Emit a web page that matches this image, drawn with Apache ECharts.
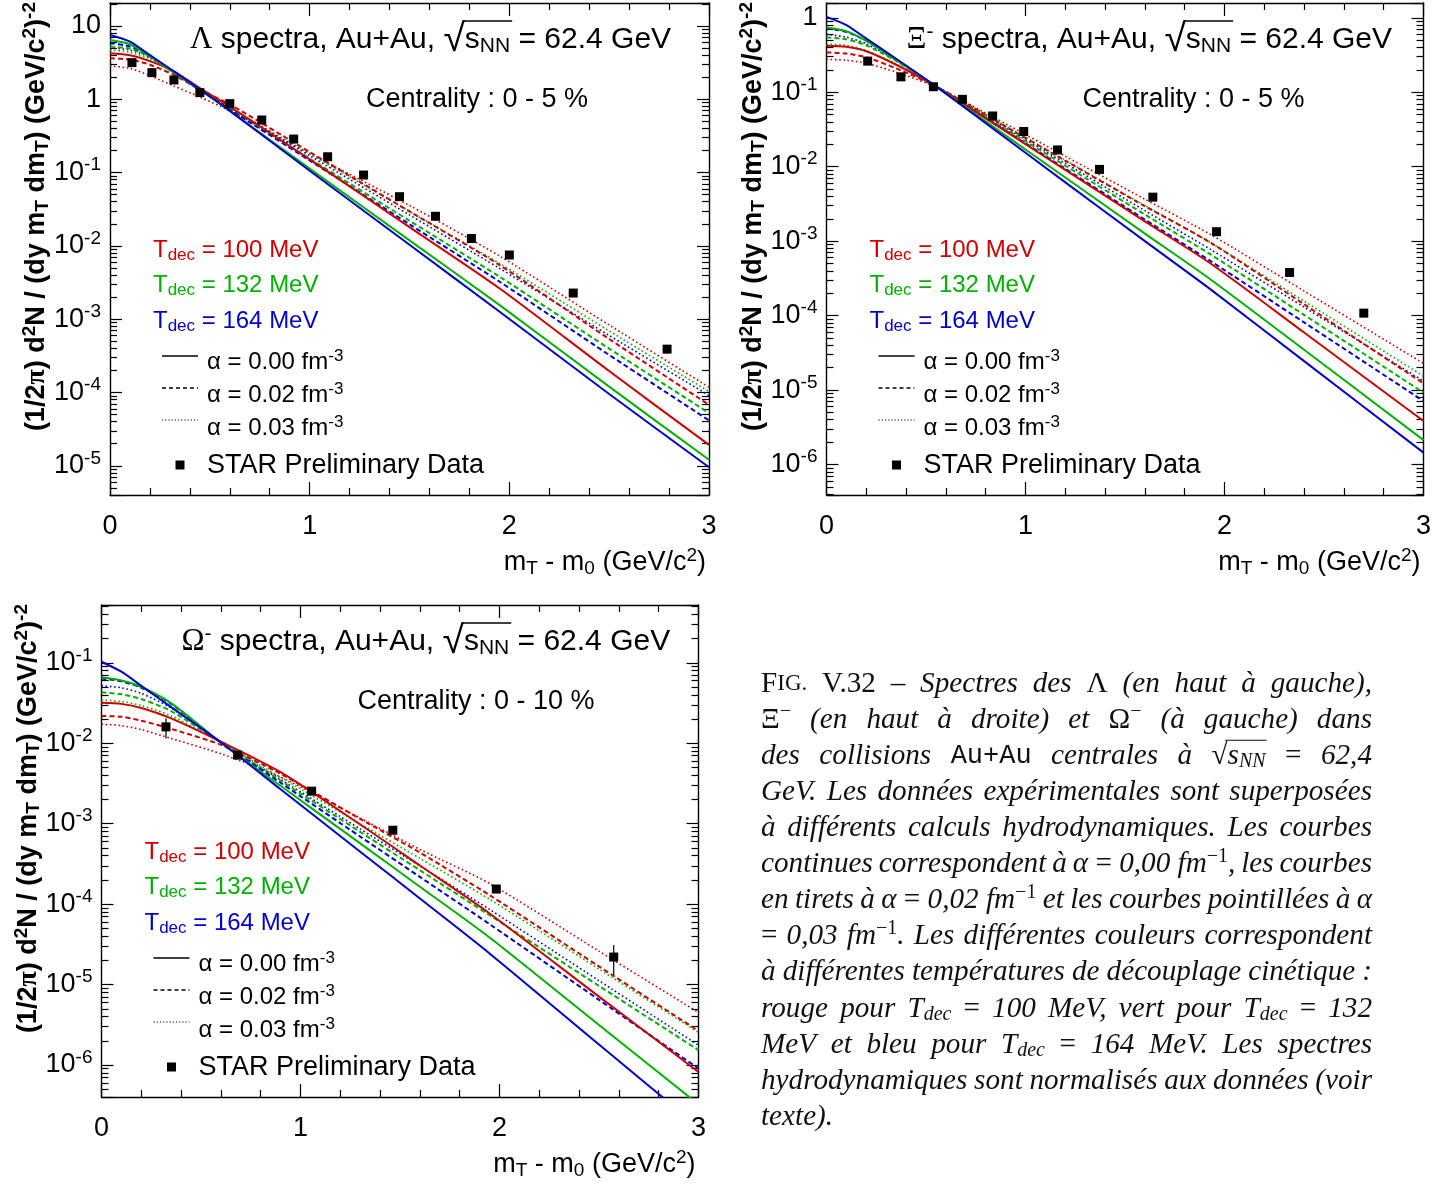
<!DOCTYPE html>
<html>
<head>
<meta charset="utf-8">
<title>Spectres Λ, Ξ, Ω – Au+Au 62.4 GeV</title>
<script src="https://cdn.jsdelivr.net/npm/echarts@6.0.0/dist/echarts.min.js"></script>
<style>
html, body { margin:0; padding:0; background:#fff; }
#chart { width:1455px; height:1185px; }
</style>
</head>
<body>
<div id="chart"></div>
<script>
// ================= DATA =================
// ---- Lambda, 0-5 % ----
const lamX  = [0, 0.1, 0.2, 0.32, 0.45, 0.6, 1.0, 1.5, 1.95, 2.5, 3.0];
const lamR0 = [4.23, 3.98, 3.31, 2.40, 1.413, 0.794, 0.1514, 0.0180, 2.64e-3, 1.96e-4, 1.93e-5];
const lamR2 = [3.61, 3.47, 2.95, 2.14, 1.35, 0.851, 0.1905, 0.0295, 5.50e-3, 5.37e-4, 6.79e-5];
const lamR3 = [2.84, 2.63, 2.09, 1.514, 1.072, 0.692, 0.182, 0.0355, 7.29e-3, 8.32e-4, 1.183e-4];
const lamG0 = [6.43, 5.62, 3.80, 2.29, 1.35, 0.692, 0.1132, 0.01189, 1.567e-3, 1.202e-4, 1.208e-5];
const lamG2 = [5.20, 4.90, 3.80, 2.34, 1.318, 0.735, 0.1545, 0.0220, 3.81e-3, 3.96e-4, 5.25e-5];
const lamG3 = [4.68, 4.37, 3.55, 2.29, 1.318, 0.766, 0.1803, 0.0295, 5.79e-3, 6.92e-4, 1.03e-4];
const lamB0 = [7.52, 6.10, 3.98, 2.40, 1.365, 0.692, 0.1059, 0.01035, 1.271e-3, 9.55e-5, 9.55e-6];
const lamB2 = [5.79, 5.25, 3.89, 2.34, 1.334, 0.723, 0.1459, 0.0197, 3.26e-3, 3.25e-4, 4.17e-5];
const lamB3 = [5.01, 4.68, 3.72, 2.34, 1.318, 0.753, 0.170, 0.0264, 4.95e-3, 6.0e-4, 9.12e-5];
const lamDataX = [0.11, 0.21, 0.32, 0.45, 0.60, 0.76, 0.92, 1.09, 1.27, 1.45, 1.63, 1.81, 2.00, 2.32, 2.79];
const lamDataY = [3.15, 2.30, 1.83, 1.23, 0.87, 0.52, 0.286, 0.164, 0.0924, 0.0468, 0.0253, 0.0126, 0.0075, 0.00227, 0.00039];

// ---- Xi-, 0-5 % ----
const xiX  = [0, 0.1, 0.2, 0.35, 0.55, 0.8, 1.2, 1.6, 1.93, 2.4, 3.0];
const xiR0 = [0.421, 0.407, 0.355, 0.234, 0.120, 0.0445, 9.06e-3, 1.845e-3, 5.01e-4, 5.93e-5, 3.84e-6];
const xiR2 = [0.343, 0.331, 0.295, 0.209, 0.120, 0.0495, 0.0120, 2.95e-3, 9.55e-4, 1.42e-4, 1.23e-5];
const xiR3 = [0.277, 0.269, 0.245, 0.186, 0.1175, 0.0525, 0.01384, 3.66e-3, 1.23e-3, 2.14e-4, 2.28e-5];
const xiG0 = [0.743, 0.661, 0.490, 0.275, 0.120, 0.0406, 7.16e-3, 1.265e-3, 3.06e-4, 3.48e-5, 2.13e-6];
const xiG2 = [0.546, 0.513, 0.427, 0.263, 0.120, 0.0468, 0.01033, 2.28e-3, 6.64e-4, 1.023e-4, 9.23e-6];
const xiG3 = [0.440, 0.427, 0.363, 0.240, 0.120, 0.0501, 0.01227, 3.01e-3, 9.55e-4, 1.567e-4, 1.54e-5];
const xiB0 = [1.03, 0.798, 0.525, 0.282, 0.120, 0.0385, 6.17e-3, 1.0e-3, 2.25e-4, 2.45e-5, 1.445e-6];
const xiB2 = [0.721, 0.646, 0.490, 0.275, 0.120, 0.0451, 9.38e-3, 1.95e-3, 5.40e-4, 8.11e-5, 7.11e-6];
const xiB3 = [0.598, 0.550, 0.447, 0.269, 0.120, 0.0481, 0.01112, 2.57e-3, 7.74e-4, 1.30e-4, 1.32e-5];
const xiDataX = [0.207, 0.374, 0.537, 0.683, 0.835, 0.991, 1.161, 1.372, 1.64, 1.96, 2.327, 2.70];
const xiDataY = [0.262, 0.161, 0.1186, 0.0803, 0.048, 0.0297, 0.0168, 0.0092, 0.0039, 0.00134, 3.8e-4, 1.08e-4];

// ---- Omega-, 0-10 % ----
const omX  = [0, 0.1, 0.2, 0.35, 0.6, 0.9, 1.3, 1.6, 1.95, 2.5, 3.0];
const omR0 = [0.0319, 0.0309, 0.0275, 0.0204, 0.01047, 4.37e-3, 9.77e-4, 3.02e-4, 7.66e-5, 7.08e-6, 8.2e-7];
const omR2 = [0.0218, 0.0214, 0.0191, 0.0151, 9.55e-3, 4.17e-3, 1.148e-3, 4.37e-4, 1.294e-4, 1.68e-5, 2.65e-6];
const omR3 = [0.0172, 0.0166, 0.0148, 0.01148, 7.41e-3, 3.80e-3, 1.175e-3, 4.79e-4, 1.807e-4, 2.60e-5, 4.50e-6];
const omG0 = [0.0661, 0.0603, 0.0501, 0.0316, 0.01023, 2.96e-3, 5.69e-4, 1.648e-4, 3.85e-5, 3.14e-6, 3.24e-7];
const omG2 = [0.0430, 0.0407, 0.0355, 0.0251, 0.01023, 3.42e-3, 7.91e-4, 2.64e-4, 7.29e-5, 9.62e-6, 1.53e-6];
const omG3 = [0.0344, 0.0331, 0.0295, 0.0219, 0.01023, 3.78e-3, 1.0e-3, 3.71e-4, 1.153e-4, 1.56e-5, 2.54e-6];
const omB0 = [0.1033, 0.0776, 0.0518, 0.0282, 0.01023, 2.68e-3, 4.49e-4, 1.175e-4, 2.44e-5, 1.795e-6, 1.70e-7];
const omB2 = [0.0641, 0.0589, 0.0490, 0.0309, 0.01023, 3.23e-3, 6.92e-4, 2.18e-4, 5.64e-5, 6.46e-6, 9.04e-7];
const omB3 = [0.0519, 0.0490, 0.0417, 0.0275, 0.01023, 3.55e-3, 8.61e-4, 2.99e-4, 8.59e-5, 1.117e-5, 1.76e-6];
const omDataX = [0.324, 0.684, 1.056, 1.464, 1.984, 2.574];
const omDataY = [0.0160, 0.00713, 0.00254, 8.3e-4, 1.54e-4, 2.2e-5];
const omDataErr = [0.0045, 0, 0, 0, 0, 0.9e-5];

// ---- labels ----
const xTickValues = [0, 1, 2, 3];
const tdecLabels = ['100', '132', '164'];
const alphaLabels = ['0.00', '0.02', '0.03'];
const centralityLabels = ['0 - 5 %', '0 - 5 %', '0 - 10 %'];
const particleLabels = ['{g|Λ}{t| spectra, Au+Au, }', '{g|Ξ}{sup|-}{t| spectra, Au+Au, }', '{g|Ω}{sup|-}{t| spectra, Au+Au, }'];
const energyLabel = '{rad|√}{t|s}{sub|NN}{t| = 62.4 GeV}';
const dataLabel = 'STAR Preliminary Data';
const captionLines = [
  '{sc1|F}{sc|IG.} {up|V.32} {up|–} Spectres des {up|Λ} (en haut à gauche),',
  '{up|Ξ}{usup|−} (en haut à droite) et {up|Ω}{usup|−} (à gauche) dans',
  'des collisions {tt|Au+Au} centrales à {rad|√}{it|s}{isub|NN} {up|=} 62,4',
  'GeV. Les données expérimentales sont superposées',
  'à différents calculs hydrodynamiques. Les courbes',
  'continues correspondent à α{up|~=~}0,00~fm{usup|−1}, les courbes',
  'en tirets à α{up|~=~}0,02~fm{usup|−1} et les courbes pointillées à α',
  '{up|=} 0,03 fm{usup|−1}. Les différentes couleurs correspondent',
  'à différentes températures de découplage cinétique :',
  'rouge pour T{isub|dec} {up|=} 100 MeV, vert pour T{isub|dec} {up|=} 132',
  'MeV et bleu pour T{isub|dec} {up|=} 164 MeV. Les spectres',
  'hydrodynamiques sont normalisés aux données (voir',
  'texte).'
];

// ================= LAYOUT / STYLE =================
const SANS = "'Liberation Sans', Arial, Helvetica, sans-serif";
const SERIF = "'Liberation Serif', 'Times New Roman', serif";
const MONO = "'Liberation Mono', 'Courier New', monospace";
const RED = '#cc0000', GREEN = '#00b000', BLUE = '#0000cc';
const grids = [
  {left: 110, top: 3, width: 599, height: 492},
  {left: 826.5, top: 3, width: 597, height: 492},
  {left: 101.5, top: 605, width: 597, height: 492}
];
const yMin = [4.0e-6, 3.9e-7, 4.0e-7];
const yMax = [20.5, 1.58, 0.524];

const ctx = document.createElement('canvas').getContext('2d');
function fontOf(s) { return (s.fontStyle || 'normal') + ' ' + (s.fontWeight || 'normal') + ' ' + s.fontSize + 'px ' + s.fontFamily; }
function parseMarkup(m, def) {
  const out = []; const re = /\{(\w+)\|([^}]*)\}|([^{]+)/g; let r;
  while ((r = re.exec(m))) {
    if (r[1]) out.push([r[1], r[2].replace(/~/g, ' ')]);
    else out.push([def, r[3].replace(/~/g, ' ')]);
  }
  return out;
}
function widths(segs, styles) { return segs.map(([s, t]) => { ctx.font = fontOf(styles[s]); return ctx.measureText(t).width; }); }
function richText(segs) { return segs.map(([s, t]) => '{' + s + '|' + t + '}').join(''); }
function cleanRich(styles) {
  const o = {}; for (const k in styles) { const c = Object.assign({}, styles[k]); delete c.radBar; o[k] = c; } return o;
}
const G = [];
function addRich(x, y, segs, styles, opt) {
  opt = opt || {};
  const ws = widths(segs, styles); const W = ws.reduce((a, b) => a + b, 0);
  let x0 = x; if (opt.align === 'right') x0 = x - W; else if (opt.align === 'center') x0 = x - W / 2;
  G.push({type: 'text', x: x0, y: y, z: 20, silent: true,
    style: {text: richText(segs), rich: cleanRich(styles), align: 'left', textAlign: 'left', verticalAlign: 'middle', textVerticalAlign: 'middle'}});
  let cx = x0;
  segs.forEach(([s, t], i) => {
    const st = styles[s];
    if (st.radBar) {
      let end = cx + ws[i];
      for (let j = i + 1; j <= i + st.radBar.cover && j < segs.length; j++) end += ws[j];
      G.push({type: 'line', z: 20, silent: true,
        shape: {x1: cx + ws[i] * st.radBar.from, y1: y + st.radBar.dy, x2: end + st.radBar.extra, y2: y + st.radBar.dy},
        style: {stroke: st.fill, lineWidth: st.radBar.lw}});
    }
    cx += ws[i];
  });
  return W;
}
function sansStyles(size, color, weight) {
  const sm = Math.round(size * 0.7);
  return {
    t: {fontSize: size, fontFamily: SANS, fill: color, fontWeight: weight || 'normal'},
    g: {fontSize: size + 1, fontFamily: SERIF, fill: color, fontWeight: weight || 'normal'},
    sub: {fontSize: sm, fontFamily: SANS, fill: color, fontWeight: weight || 'normal', padding: [Math.round(size * 0.42), 0, 0, 0]},
    sup: {fontSize: sm, fontFamily: SANS, fill: color, fontWeight: weight || 'normal', padding: [0, 0, Math.round(size * 0.5), 0]},
    rad: {fontSize: Math.round(size * 1.3), fontFamily: SANS, fill: color, radBar: {cover: 2, from: 0.9, dy: -Math.round(size * 0.62), extra: 2, lw: 1.5}}
  };
}

// ================= PANEL DECORATIONS =================
const tdecColors = [RED, GREEN, BLUE];
const legendDash = [null, [4, 3], [1.2, 2]];
grids.forEach((gr, g) => {
  const L = gr.left, T = gr.top;
  addRich(L + 80, T + 37, parseMarkup(particleLabels[g] + energyLabel, 't'), sansStyles(30, '#000'));
  addRich(L + 256, T + 97, [['t', 'Centrality : ' + centralityLabels[g]]], sansStyles(27, '#000'));
  tdecLabels.forEach((tl, k) => {
    addRich(L + 43, T + 247 + k * 35.5, parseMarkup('T{sub|dec}{t| = ' + tl + ' MeV}', 't'), sansStyles(24, tdecColors[k]));
  });
  alphaLabels.forEach((al, k) => {
    const ly = T + 353 + k * 32;
    G.push({type: 'line', z: 20, silent: true, shape: {x1: L + 52, y1: ly, x2: L + 88, y2: ly},
      style: {stroke: '#000', lineWidth: k === 2 ? 1.2 : 1.6, lineDash: legendDash[k]}});
    addRich(L + 97, T + 359 + k * 33, parseMarkup('α = ' + al + ' fm{sup|-3}', 't'), sansStyles(24, '#000'));
  });
  G.push({type: 'rect', z: 20, silent: true, shape: {x: L + 65.5, y: T + 457.5, width: 9, height: 9}, style: {fill: '#000'}});
  addRich(L + 97, T + 463, [['t', dataLabel]], sansStyles(27, '#000'));
  addRich(L + gr.width - 3, T + gr.height + 68, parseMarkup('m{sub|T}{t| - m}{sub|0}{t| (GeV/c}{sup|2}{t|)}', 't'), sansStyles(27, '#000'), {align: 'right'});
  const ys = sansStyles(27, '#000', 'bold');
  ys.g = {fontSize: 28, fontFamily: SERIF, fill: '#000', fontWeight: 'bold'};
  const ysegs = parseMarkup('(1/2{g|π}{t|) d}{sup|2}{t|N / (dy m}{sub|T}{t| dm}{sub|T}{t|) (GeV/c}{sup|2}{t|)}{sup|-2}', 't');
  G.push({type: 'text', x: L - 73, y: T - 1, rotation: Math.PI / 2, z: 20, silent: true,
    style: {text: richText(ysegs), rich: cleanRich(ys), align: 'right', textAlign: 'right', verticalAlign: 'middle', textVerticalAlign: 'middle'}});
});

// ================= CAPTION (justified) =================
(function () {
  const X0 = 761, WIDTH = 611, Y0 = 684, DY = 36.1;
  function capStyles(S) {
    return {
      it: {fontSize: S, fontFamily: SERIF, fontStyle: 'italic', fill: '#111'},
      up: {fontSize: S, fontFamily: SERIF, fill: '#111'},
      sc1: {fontSize: S, fontFamily: SERIF, fill: '#111'},
      sc: {fontSize: Math.round(S * 0.8), fontFamily: SERIF, fill: '#111'},
      tt: {fontSize: Math.round(S * 0.92), fontFamily: MONO, fill: '#111'},
      usup: {fontSize: Math.round(S * 0.7), fontFamily: SERIF, fill: '#111', padding: [0, 0, Math.round(S * 0.55), 0]},
      isub: {fontSize: Math.round(S * 0.7), fontFamily: SERIF, fontStyle: 'italic', fill: '#111', padding: [Math.round(S * 0.42), 0, 0, 0]},
      rad: {fontSize: S, fontFamily: SERIF, fill: '#111', radBar: {cover: 2, from: 0.85, dy: -Math.round(S * 0.54), extra: 1, lw: 1.1}}
    };
  }
  function lineWords(cs) {
    ctx.font = fontOf(cs.it); const spaceW = ctx.measureText(' ').width;
    return captionLines.map(line => {
      const words = line.split(' ').map(w => parseMarkup(w, 'it'));
      const wws = words.map(ws => widths(ws, cs).reduce((a, b) => a + b, 0));
      return {words, wws, total: wws.reduce((a, b) => a + b, 0), spaceW};
    });
  }
  let S = 26;
  const probe = lineWords(capStyles(S));
  let maxW = 0;
  probe.forEach((l, i) => { if (i < probe.length - 1) maxW = Math.max(maxW, l.total + l.spaceW * 0.8 * (l.words.length - 1)); });
  S = Math.min(31, S * WIDTH / maxW);
  const cs = capStyles(S);
  const lines = lineWords(cs);
  lines.forEach((l, li) => {
    const last = li === lines.length - 1;
    const gap = (last || l.words.length < 2) ? l.spaceW : Math.max(l.spaceW * 0.5, (WIDTH - l.total) / (l.words.length - 1));
    let x = X0;
    l.words.forEach((ws, k) => { addRich(x, Y0 + li * DY, ws, cs); x += l.wws[k] + gap; });
  });
})();

// ================= SERIES =================
function curve(g, xs, ys, color, kind) {
  return {
    type: 'line', xAxisIndex: 2 * g, yAxisIndex: 2 * g, silent: true, animation: false,
    data: xs.map((x, i) => [x, ys[i]]), showSymbol: false, symbol: 'none', smooth: 0.25, clip: true, z: 2,
    lineStyle: {color: color, width: kind === 'dot' ? 1.6 : 2, type: kind === 'solid' ? 'solid' : (kind === 'dash' ? [5, 3] : [1.6, 2.6])}
  };
}
function points(g, xs, ys) {
  return {type: 'scatter', xAxisIndex: 2 * g, yAxisIndex: 2 * g, silent: true, animation: false,
    data: xs.map((x, i) => [x, ys[i]]), symbol: 'rect', symbolSize: 9, itemStyle: {color: '#000', opacity: 1}, z: 5};
}
const series = [
  curve(0, lamX, lamR3, RED, 'dot'), curve(0, lamX, lamG3, GREEN, 'dot'), curve(0, lamX, lamB3, BLUE, 'dot'),
  curve(0, lamX, lamR2, RED, 'dash'), curve(0, lamX, lamG2, GREEN, 'dash'), curve(0, lamX, lamB2, BLUE, 'dash'),
  curve(0, lamX, lamR0, RED, 'solid'), curve(0, lamX, lamG0, GREEN, 'solid'), curve(0, lamX, lamB0, BLUE, 'solid'),
  points(0, lamDataX, lamDataY),
  curve(1, xiX, xiR3, RED, 'dot'), curve(1, xiX, xiG3, GREEN, 'dot'), curve(1, xiX, xiB3, BLUE, 'dot'),
  curve(1, xiX, xiR2, RED, 'dash'), curve(1, xiX, xiG2, GREEN, 'dash'), curve(1, xiX, xiB2, BLUE, 'dash'),
  curve(1, xiX, xiR0, RED, 'solid'), curve(1, xiX, xiG0, GREEN, 'solid'), curve(1, xiX, xiB0, BLUE, 'solid'),
  points(1, xiDataX, xiDataY),
  curve(2, omX, omR3, RED, 'dot'), curve(2, omX, omG3, GREEN, 'dot'), curve(2, omX, omB3, BLUE, 'dot'),
  curve(2, omX, omR2, RED, 'dash'), curve(2, omX, omG2, GREEN, 'dash'), curve(2, omX, omB2, BLUE, 'dash'),
  curve(2, omX, omR0, RED, 'solid'), curve(2, omX, omG0, GREEN, 'solid'), curve(2, omX, omB0, BLUE, 'solid'),
  {
    type: 'custom', xAxisIndex: 4, yAxisIndex: 4, silent: true, z: 4,
    data: omDataX.map((x, i) => [x, omDataY[i], omDataErr[i]]),
    renderItem: function (params, api) {
      const x = api.value(0), y = api.value(1), e = api.value(2);
      if (!e) return null;
      const p1 = api.coord([x, y + e]), p2 = api.coord([x, y - e]);
      return {type: 'line', shape: {x1: p1[0], y1: p1[1], x2: p2[0], y2: p2[1]}, style: {stroke: '#000', lineWidth: 1.2}};
    }
  },
  points(2, omDataX, omDataY)
];

// ================= AXES =================
function powLabel(v) {
  const l = Math.log10(v), e = Math.round(l);
  if (Math.abs(l - e) > 1e-6) return '';
  if (e === 0) return '1';
  if (e === 1) return '10';
  return '10{s|' + e + '}';
}
const xAxes = [], yAxes = [];
grids.forEach((gr, g) => {
  ['bottom', 'top'].forEach(pos => xAxes.push({
    gridIndex: g, type: 'value', min: xTickValues[0], max: xTickValues[xTickValues.length - 1], interval: 1, position: pos,
    axisLine: {show: true, onZero: false, lineStyle: {color: '#000', width: 1.4}},
    axisTick: {show: true, inside: true, length: 13, lineStyle: {color: '#000', width: 1.2}},
    minorTick: {show: true, splitNumber: 5, length: 7, lineStyle: {color: '#000', width: 1.2}},
    splitLine: {show: false}, minorSplitLine: {show: false},
    axisLabel: {show: pos === 'bottom', margin: 18, fontSize: 27, fontFamily: SANS, color: '#000'}
  }));
  ['left', 'right'].forEach(pos => yAxes.push({
    gridIndex: g, type: 'log', logBase: 10, min: yMin[g], max: yMax[g], position: pos,
    axisLine: {show: true, onZero: false, lineStyle: {color: '#000', width: 1.4}},
    axisTick: {show: true, inside: true, length: 12, lineStyle: {color: '#000', width: 1.2}},
    minorTick: {show: true, splitNumber: 9, length: 7, lineStyle: {color: '#000', width: 1.2}},
    splitLine: {show: false}, minorSplitLine: {show: false},
    axisLabel: {show: pos === 'left', margin: 9, fontSize: 27, fontFamily: SANS, color: '#000', formatter: powLabel,
      showMinLabel: true, showMaxLabel: true,
      rich: {s: {fontSize: 19, fontFamily: SANS, color: '#000', padding: [0, 0, 15, 0]}}}
  }));
});

const chart = echarts.init(document.getElementById('chart'), null, {renderer: 'canvas'});
chart.setOption({
  animation: false,
  backgroundColor: '#fff',
  grid: grids.map(gr => ({left: gr.left, top: gr.top, width: gr.width, height: gr.height, containLabel: false, outerBoundsMode: 'none'})),
  xAxis: xAxes,
  yAxis: yAxes,
  series: series,
  graphic: {elements: G}
});
</script>
</body>
</html>
